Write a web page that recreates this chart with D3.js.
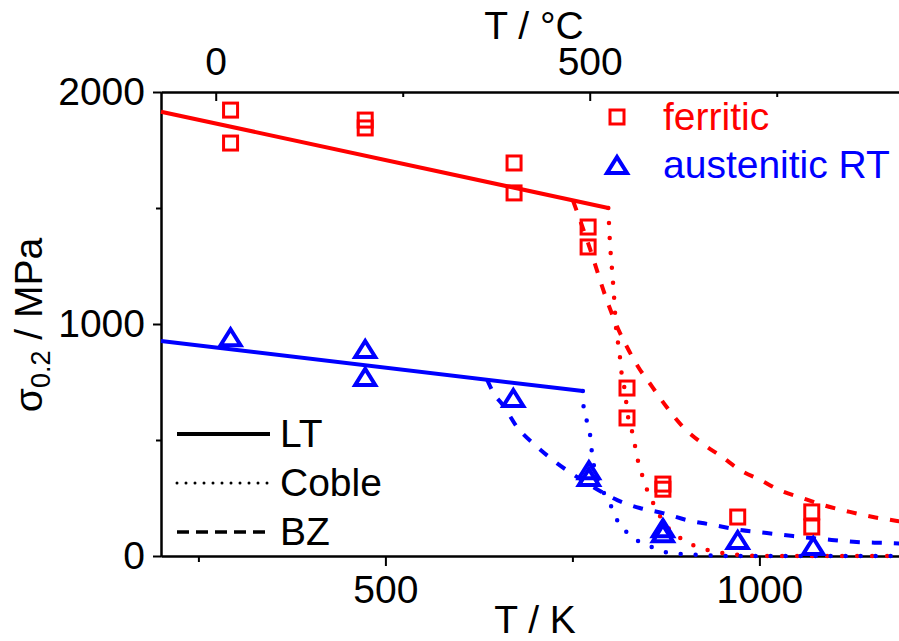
<!DOCTYPE html>
<html>
<head>
<meta charset="utf-8">
<script src="https://cdn.jsdelivr.net/npm/d3@7"></script>
<style>
  body { margin: 0; background: #fff; }
  svg text { font-family: "Liberation Sans", Arial, sans-serif; }
</style>
</head>
<body>
<svg id="chart" width="899" height="641"></svg>
<script>
// measured points, [T in K, sigma_0.2 in MPa]
const ferriticPts = [[293,1922],[293,1780],[473,1879],[473,1845],[672,1694],[672,1565],
  [771,1418],[771,1332],[823,724],[823,595],[871,310],[871,288],[971,168],[1070,190],[1070,125]];
const austeniticPts = [[293,943],[473,892],[473,772],[671,681],[772,370],[772,340],
  [871,120],[871,98],[971,69],[1072,43]];

// model curves
const ferriticLT = [[200,1915],[798,1500]];
const ferriticCoble = [[798,1500],[800,1362],[803,1233],[806,1103],[808,996],[811,918],[814,845],
  [816,780],[820,716],[824,608],[830,534],[834,470],[838,405],[844,341],[850,284],[858,228],
  [867,172],[877,125],[894,78],[911,47],[931,26],[951,13],[974,4],[1010,0],[1200,0]];
const ferriticBZ = [[751,1530],[771,1349],[796,1103],[810,987],[823,901],[838,815],[857,728],
  [876,642],[898,556],[923,487],[950,427],[974,371],[1001,328],[1027,284],[1057,250],[1085,220],
  [1121,190],[1152,168],[1184,151],[1200,142]];
const austeniticLT = [[200,927],[764,711]];
const austeniticCoble = [[764,711],[765,642],[770,573],[774,513],[776,448],[780,371],[787,306],
  [795,254],[803,207],[811,147],[824,99],[840,60],[860,34],[880,13],[921,4],[960,0],[1200,0]];
const austeniticBZ = [[636,760],[645,700],[657,651],[676,556],[703,470],[729,401],[756,341],
  [778,297],[810,241],[840,207],[871,185],[903,155],[938,134],[974,112],[1010,99],[1045,86],
  [1085,73],[1130,60],[1171,56],[1200,52]];

// axes ticks
const kMajor = [500, 1000];
const kMinor = [250, 750];
const cMajor = [0, 500];
const cMinor = [250, 750];
const yMajor = [0, 1000, 2000];
const yMinor = [500, 1500];

const RED = '#ff0000', BLUE = '#0000ff';
const FS = 39;
const fmt = d3.format('d');

const svg = d3.select('#chart');

const x = d3.scaleLinear().domain([200, 1200]).range([161, 909]);
const xC = d3.scaleLinear().domain([200 - 273.15, 1200 - 273.15]).range([161, 909]);
const y = d3.scaleLinear().domain([0, 2000]).range([556, 92]);

function styleAxis(g) {
  g.select('.domain').attr('stroke', '#000').attr('stroke-width', 2);
  g.selectAll('.tick line').attr('stroke', '#000').attr('stroke-width', 2);
  g.selectAll('.tick text').attr('fill', '#000').style('font-size', FS + 'px')
    .style('font-family', '"Liberation Sans", Arial, sans-serif');
}

// bottom axis (K)
svg.append('g').attr('transform', 'translate(0,556)')
  .call(d3.axisBottom(x).tickValues(kMinor).tickSize(6).tickSizeOuter(0).tickFormat(''))
  .call(styleAxis);
svg.append('g').attr('transform', 'translate(0,556)')
  .call(d3.axisBottom(x).tickValues(kMajor).tickSize(10).tickPadding(9).tickSizeOuter(0).tickFormat(fmt))
  .call(styleAxis);

// top axis (°C), ticks point inward
svg.append('g').attr('transform', 'translate(0,92)')
  .call(d3.axisTop(xC).tickValues(cMinor).tickSize(-5).tickSizeOuter(0).tickFormat(''))
  .call(styleAxis);
svg.append('g').attr('transform', 'translate(0,92)')
  .call(d3.axisTop(xC).tickValues(cMajor).tickSize(-9).tickPadding(17).tickSizeOuter(0).tickFormat(fmt))
  .call(styleAxis);

// left axis
svg.append('g').attr('transform', 'translate(161,0)')
  .call(d3.axisLeft(y).tickValues(yMinor).tickSize(5).tickSizeOuter(0).tickFormat(''))
  .call(styleAxis);
svg.append('g').attr('transform', 'translate(161,0)')
  .call(d3.axisLeft(y).tickValues(yMajor).tickSize(8).tickPadding(8).tickSizeOuter(0).tickFormat(fmt))
  .call(styleAxis);

// right axis (mostly off-canvas)
svg.append('g').attr('transform', 'translate(909,0)')
  .call(d3.axisRight(y).tickValues(yMinor).tickSize(-5).tickSizeOuter(0).tickFormat(''))
  .call(styleAxis);
svg.append('g').attr('transform', 'translate(909,0)')
  .call(d3.axisRight(y).tickValues(yMajor).tickSize(-9).tickSizeOuter(0).tickFormat(''))
  .call(styleAxis);

// axis titles
svg.append('text').attr('x', 535).attr('y', 633).attr('text-anchor', 'middle')
  .style('font-size', FS + 'px').text('T / K');
svg.append('text').attr('x', 534).attr('y', 39).attr('text-anchor', 'middle')
  .style('font-size', FS + 'px').text('T / °C');
const yt = svg.append('text').attr('transform', 'translate(42,325) rotate(-90)')
  .attr('text-anchor', 'middle').style('font-size', FS + 'px');
yt.append('tspan').text('σ');
yt.append('tspan').attr('dy', 8).style('font-size', '27px').text('0.2');
yt.append('tspan').attr('dy', -8).text(' / MPa');

// line styles
const styles = {
  LT: { w: 4, dash: null, cap: 'butt' },
  Coble: { w: 4.5, dash: '0,15', cap: 'round' },
  BZ: { w: 4, dash: '10,12', cap: 'butt' }
};

const line = d3.line().x(d => x(d[0])).y(d => y(d[1])).curve(d3.curveMonotoneX);

function drawCurve(data, color, kind) {
  const s = styles[kind];
  svg.append('path').datum(data)
    .attr('d', line)
    .attr('fill', 'none')
    .attr('stroke', color)
    .attr('stroke-width', s.w)
    .attr('stroke-linecap', s.cap)
    .attr('stroke-dasharray', s.dash);
}

drawCurve(ferriticLT, RED, 'LT');
drawCurve(ferriticCoble, RED, 'Coble');
drawCurve(ferriticBZ, RED, 'BZ');
drawCurve(austeniticLT, BLUE, 'LT');
drawCurve(austeniticCoble, BLUE, 'Coble');
drawCurve(austeniticBZ, BLUE, 'BZ');

// markers
function square(g, cx, cy) {
  g.append('rect').attr('x', cx - 7).attr('y', cy - 7).attr('width', 14).attr('height', 14)
    .attr('fill', 'none').attr('stroke', RED).attr('stroke-width', 3);
}
function triangle(g, cx, cy) {
  g.append('path').attr('d', `M${cx},${cy - 8}L${cx + 10},${cy + 8}L${cx - 10},${cy + 8}Z`)
    .attr('fill', 'none').attr('stroke', BLUE).attr('stroke-width', 4);
}

const marks = svg.append('g');
ferriticPts.forEach(d => square(marks, x(d[0]), y(d[1])));
austeniticPts.forEach(d => triangle(marks, x(d[0]), y(d[1])));

// legend: samples
square(svg, 617, 117);
triangle(svg, 617, 165);
svg.append('text').attr('x', 663).attr('y', 130).attr('fill', RED)
  .style('font-size', FS + 'px').text('ferritic');
svg.append('text').attr('x', 663).attr('y', 178).attr('fill', BLUE)
  .style('font-size', FS + 'px').text('austenitic RT');

// legend: models
const modelLegend = [
  { key: 'LT', y: 434, dash: null, w: 4, cap: 'butt' },
  { key: 'Coble', y: 483, dash: '0,9', w: 3, cap: 'round' },
  { key: 'BZ', y: 532, dash: '12,7', w: 3.5, cap: 'butt' }
];
modelLegend.forEach(m => {
  svg.append('line').attr('x1', 177).attr('x2', 270).attr('y1', m.y).attr('y2', m.y)
    .attr('stroke', '#000').attr('stroke-width', m.w)
    .attr('stroke-linecap', m.cap).attr('stroke-dasharray', m.dash);
  svg.append('text').attr('x', 280).attr('y', m.y + 13)
    .style('font-size', FS + 'px').text(m.key);
});
</script>
</body>
</html>
